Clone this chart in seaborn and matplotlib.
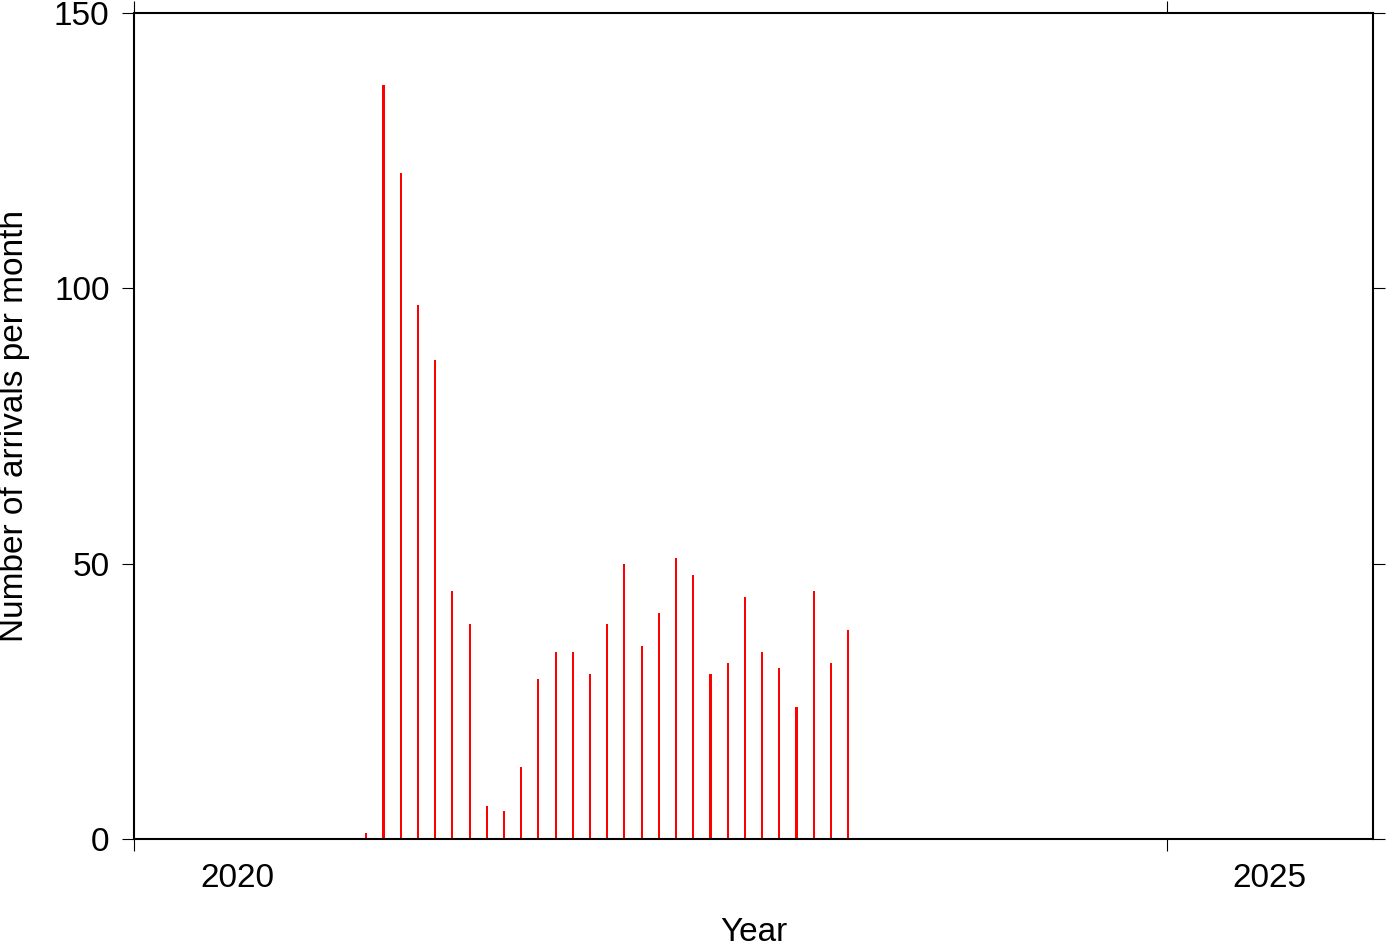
import matplotlib
matplotlib.use("Agg")
import matplotlib.pyplot as plt
import seaborn as sns
import pandas as pd
import numpy as np

# Monthly arrivals: Feb 2021 .. Jun 2023
months = pd.date_range("2021-02-01", "2023-06-01", freq="MS")
counts = [1, 137, 121, 97, 87, 45, 39, 6, 5, 13, 29, 34, 34, 30, 39, 50,
          35, 41, 51, 48, 30, 32, 44, 34, 31, 24, 45, 32, 38]
year_labels = ["2020", "2025"]

sns.set_theme(style="white")
plt.rcParams["font.family"] = ["Liberation Sans", "DejaVu Sans"]

# decimal year at mid-month
dec_year = [m.year + (m.month - 1) / 12 + 1 / 24 for m in months]
df = pd.DataFrame({"year": dec_year, "count": counts})

fig = plt.figure(figsize=(13.87, 9.42), dpi=100)
ax = fig.add_axes([134 / 1387, (942 - 839) / 942, (1373 - 134) / 1387, (839 - 13) / 942])

sns.barplot(data=df, x="year", y="count", native_scale=True, width=0.12,
            color="#ff0000", saturation=1, linewidth=0, ax=ax)

ax.set_xlim(2020, 2026)
ax.set_ylim(0, 150)

ax.set_xticks([2020, 2025])
ax.set_xticklabels([])
ax.set_xticks([2020.5, 2025.5], minor=True)
ax.set_xticklabels(year_labels, minor=True)
ax.set_yticks([0, 50, 100, 150])
ax.set_yticklabels(["0", "50", "100", "150"])

fs = 24
ax.tick_params(axis="both", which="major", direction="out", length=8.6, width=0.8,
               color="black", labelsize=fs, labelcolor="black")
ax.tick_params(axis="x", which="major", top=True, bottom=True)
ax.tick_params(axis="y", which="major", left=True, right=True, pad=9)
ax.tick_params(axis="x", which="minor", length=0, labelsize=fs, pad=17, labelcolor="black")

for s in ax.spines.values():
    s.set_visible(True)
    s.set_color("black")
    s.set_linewidth(1.5)

ax.set_xlabel("Year", fontsize=fs, labelpad=17, color="black")
ax.set_ylabel("Number of arrivals per month", fontsize=fs, labelpad=17, color="black")
ax.grid(False)

fig.savefig("out.png", dpi=100, facecolor="white")
